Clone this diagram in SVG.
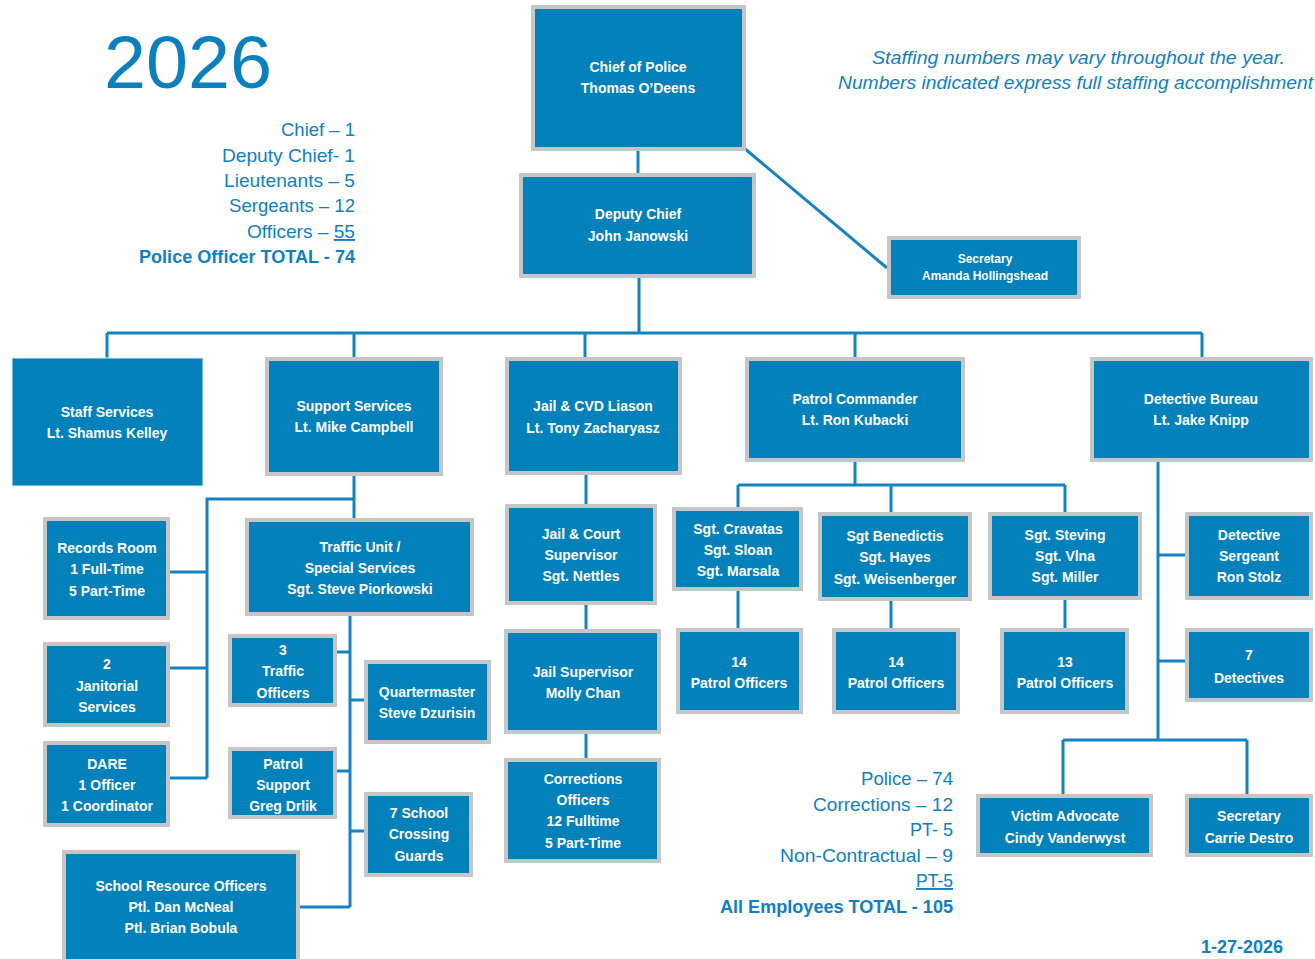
<svg xmlns="http://www.w3.org/2000/svg" width="1315" height="959" viewBox="0 0 1315 959">
<style>
.b{fill:#0381ba;stroke:#c6c6c6;stroke-width:4}
.t{font-family:"Liberation Sans",Arial,sans-serif;font-weight:bold;font-size:14px;fill:#ffffff;text-anchor:middle}
.c{fill:none;stroke:#1583bf;stroke-width:3}
.s{font-family:"Liberation Sans",Arial,sans-serif;font-size:19px;fill:#1280c0;text-anchor:end}
.sb{font-weight:bold}
</style>
<rect width="1315" height="959" fill="#ffffff"/>
<g id="connectors">
<path class="c" d="M638 151V173M744 148L887 268M639 278V333M107 333H1202M107 333V358M354 333V357M585 333V357M855 333V357M1202 333V357"/>
<path class="c" d="M354 476V518M354 499H207V778M170 572H207M170 668H207M170 778H207"/>
<path class="c" d="M350 616V907M337 652H350M350 700H364M337 771H350M350 831H364M300 907H350"/>
<path class="c" d="M586 475V504M586 605V629M586 734V758"/>
<path class="c" d="M855 462V485M738 485H1065M738 485V507M891 485V512M1065 485V512M738 591V628M891 601V628M1065 600V628"/>
<path class="c" d="M1158 462V740M1158 555H1185M1158 661H1185M1063 740H1247M1063 740V794M1247 740V794"/>
</g>
<g id="title"><text x="104" y="88" style="font-family:'Liberation Sans',Arial,sans-serif;font-size:75px;fill:#0b80bf" textLength="168" lengthAdjust="spacingAndGlyphs">2026</text></g>
<g id="note" style="font-family:'Liberation Sans',Arial,sans-serif;font-style:italic;font-size:18px;fill:#1280c0">
<text x="872" y="64" textLength="413" lengthAdjust="spacingAndGlyphs">Staffing numbers may vary throughout the year.</text>
<text x="838" y="89" textLength="475" lengthAdjust="spacingAndGlyphs">Numbers indicated express full staffing accomplishment</text>
</g>
<g id="stats-police">
<text class="s" x="355" y="136" textLength="74" lengthAdjust="spacingAndGlyphs">Chief – 1</text>
<text class="s" x="355" y="162" textLength="133" lengthAdjust="spacingAndGlyphs">Deputy Chief- 1</text>
<text class="s" x="355" y="187" textLength="131" lengthAdjust="spacingAndGlyphs">Lieutenants – 5</text>
<text class="s" x="355" y="212" textLength="126" lengthAdjust="spacingAndGlyphs">Sergeants – 12</text>
<text class="s" x="355" y="238" textLength="108" lengthAdjust="spacingAndGlyphs">Officers – <tspan text-decoration="underline">55</tspan></text>
<text class="s sb" x="355" y="263" textLength="216" lengthAdjust="spacingAndGlyphs">Police Officer TOTAL - 74</text>
</g>
<g id="stats-all">
<text class="s" x="953" y="785" textLength="92" lengthAdjust="spacingAndGlyphs">Police – 74</text>
<text class="s" x="953" y="811" textLength="140" lengthAdjust="spacingAndGlyphs">Corrections – 12</text>
<text class="s" x="953" y="836" textLength="43" lengthAdjust="spacingAndGlyphs">PT- 5</text>
<text class="s" x="953" y="862" textLength="173" lengthAdjust="spacingAndGlyphs">Non-Contractual – 9</text>
<text class="s" x="953" y="887" textLength="37" lengthAdjust="spacingAndGlyphs" text-decoration="underline">PT-5</text>
<text class="s sb" x="953" y="913" textLength="233" lengthAdjust="spacingAndGlyphs">All Employees TOTAL - 105</text>
</g>
<g id="date"><text x="1283" y="953" style="font-family:'Liberation Sans',Arial,sans-serif;font-weight:bold;font-size:18px;fill:#1280c0;text-anchor:end">1-27-2026</text></g>
<g id="chief"><rect class="b" x="533" y="7" width="211" height="142"/><text class="t" x="638" y="72">Chief of Police</text><text class="t" x="638" y="93">Thomas O’Deens</text></g>
<g id="deputy"><rect class="b" x="521" y="175" width="233" height="101"/><text class="t" x="638" y="219">Deputy Chief</text><text class="t" x="638" y="241">John Janowski</text></g>
<g id="secretary1"><rect class="b" x="889" y="238" width="190" height="59"/><text class="t" x="985" y="263" style="font-size:12px">Secretary</text><text class="t" x="985" y="280" style="font-size:12px">Amanda Hollingshead</text></g>
<g id="staff"><rect class="b" x="12" y="358" width="191" height="128" style="stroke:#e6eef2;stroke-width:1"/><text class="t" x="107" y="417">Staff Services</text><text class="t" x="107" y="438">Lt. Shamus Kelley</text></g>
<g id="support"><rect class="b" x="267" y="359" width="174" height="115"/><text class="t" x="354" y="411">Support Services</text><text class="t" x="354" y="432">Lt. Mike Campbell</text></g>
<g id="jailcvd"><rect class="b" x="507" y="359" width="173" height="114"/><text class="t" x="593" y="411">Jail &amp; CVD Liason</text><text class="t" x="593" y="433">Lt. Tony Zacharyasz</text></g>
<g id="patrolcmd"><rect class="b" x="747" y="359" width="216" height="101"/><text class="t" x="855" y="404">Patrol Commander</text><text class="t" x="855" y="425">Lt. Ron Kubacki</text></g>
<g id="detective"><rect class="b" x="1092" y="359" width="219" height="101"/><text class="t" x="1201" y="404">Detective Bureau</text><text class="t" x="1201" y="425">Lt. Jake Knipp</text></g>
<g id="records"><rect class="b" x="45" y="519" width="123" height="99"/><text class="t" x="107" y="553">Records Room</text><text class="t" x="107" y="574">1 Full-Time</text><text class="t" x="107" y="596">5 Part-Time</text></g>
<g id="trafficunit"><rect class="b" x="247" y="520" width="225" height="94"/><text class="t" x="360" y="552">Traffic Unit /</text><text class="t" x="360" y="573">Special Services</text><text class="t" x="360" y="594">Sgt. Steve Piorkowski</text></g>
<g id="janitorial"><rect class="b" x="45" y="644" width="123" height="81"/><text class="t" x="107" y="669">2</text><text class="t" x="107" y="691">Janitorial</text><text class="t" x="107" y="712">Services</text></g>
<g id="trafficofficers"><rect class="b" x="230" y="636" width="105" height="69"/><text class="t" x="283" y="655">3</text><text class="t" x="283" y="676">Traffic</text><text class="t" x="283" y="698">Officers</text></g>
<g id="quartermaster"><rect class="b" x="366" y="662" width="123" height="80"/><text class="t" x="427" y="697">Quartermaster</text><text class="t" x="427" y="718">Steve Dzurisin</text></g>
<g id="dare"><rect class="b" x="45" y="743" width="123" height="82"/><text class="t" x="107" y="769">DARE</text><text class="t" x="107" y="790">1 Officer</text><text class="t" x="107" y="811">1 Coordinator</text></g>
<g id="patrolsupport"><rect class="b" x="230" y="749" width="105" height="68"/><text class="t" x="283" y="769">Patrol</text><text class="t" x="283" y="790">Support</text><text class="t" x="283" y="811">Greg Drlik</text></g>
<g id="crossing"><rect class="b" x="366" y="794" width="105" height="81"/><text class="t" x="419" y="818">7 School</text><text class="t" x="419" y="839">Crossing</text><text class="t" x="419" y="861">Guards</text></g>
<g id="sro"><rect class="b" x="64" y="852" width="234" height="112"/><text class="t" x="181" y="891">School Resource Officers</text><text class="t" x="181" y="912">Ptl. Dan McNeal</text><text class="t" x="181" y="933">Ptl. Brian Bobula</text></g>
<g id="jailcourt"><rect class="b" x="507" y="506" width="148" height="97"/><text class="t" x="581" y="539">Jail &amp; Court</text><text class="t" x="581" y="560">Supervisor</text><text class="t" x="581" y="581">Sgt. Nettles</text></g>
<g id="jailsup"><rect class="b" x="506" y="631" width="153" height="101"/><text class="t" x="583" y="677">Jail Supervisor</text><text class="t" x="583" y="698">Molly Chan</text></g>
<g id="corrections"><rect class="b" x="506" y="760" width="153" height="101"/><text class="t" x="583" y="784">Corrections</text><text class="t" x="583" y="805">Officers</text><text class="t" x="583" y="826">12 Fulltime</text><text class="t" x="583" y="848">5 Part-Time</text></g>
<g id="sgt1"><rect class="b" x="674" y="509" width="127" height="80"/><text class="t" x="738" y="534">Sgt. Cravatas</text><text class="t" x="738" y="555">Sgt. Sloan</text><text class="t" x="738" y="576">Sgt. Marsala</text></g>
<g id="sgt2"><rect class="b" x="820" y="514" width="150" height="85"/><text class="t" x="895" y="541">Sgt Benedictis</text><text class="t" x="895" y="562">Sgt. Hayes</text><text class="t" x="895" y="584">Sgt. Weisenberger</text></g>
<g id="sgt3"><rect class="b" x="990" y="514" width="150" height="84"/><text class="t" x="1065" y="540">Sgt. Steving</text><text class="t" x="1065" y="561">Sgt. Vlna</text><text class="t" x="1065" y="582">Sgt. Miller</text></g>
<g id="detsgt"><rect class="b" x="1187" y="514" width="124" height="84"/><text class="t" x="1249" y="540">Detective</text><text class="t" x="1249" y="561">Sergeant</text><text class="t" x="1249" y="582">Ron Stolz</text></g>
<g id="patrol1"><rect class="b" x="678" y="630" width="123" height="82"/><text class="t" x="739" y="667">14</text><text class="t" x="739" y="688">Patrol Officers</text></g>
<g id="patrol2"><rect class="b" x="834" y="630" width="124" height="82"/><text class="t" x="896" y="667">14</text><text class="t" x="896" y="688">Patrol Officers</text></g>
<g id="patrol3"><rect class="b" x="1002" y="630" width="125" height="82"/><text class="t" x="1065" y="667">13</text><text class="t" x="1065" y="688">Patrol Officers</text></g>
<g id="detectives"><rect class="b" x="1187" y="630" width="124" height="70"/><text class="t" x="1249" y="660">7</text><text class="t" x="1249" y="683">Detectives</text></g>
<g id="victim"><rect class="b" x="978" y="796" width="173" height="59"/><text class="t" x="1065" y="821">Victim Advocate</text><text class="t" x="1065" y="843">Cindy Vanderwyst</text></g>
<g id="secretary2"><rect class="b" x="1187" y="796" width="124" height="59"/><text class="t" x="1249" y="821">Secretary</text><text class="t" x="1249" y="843">Carrie Destro</text></g>
</svg>
